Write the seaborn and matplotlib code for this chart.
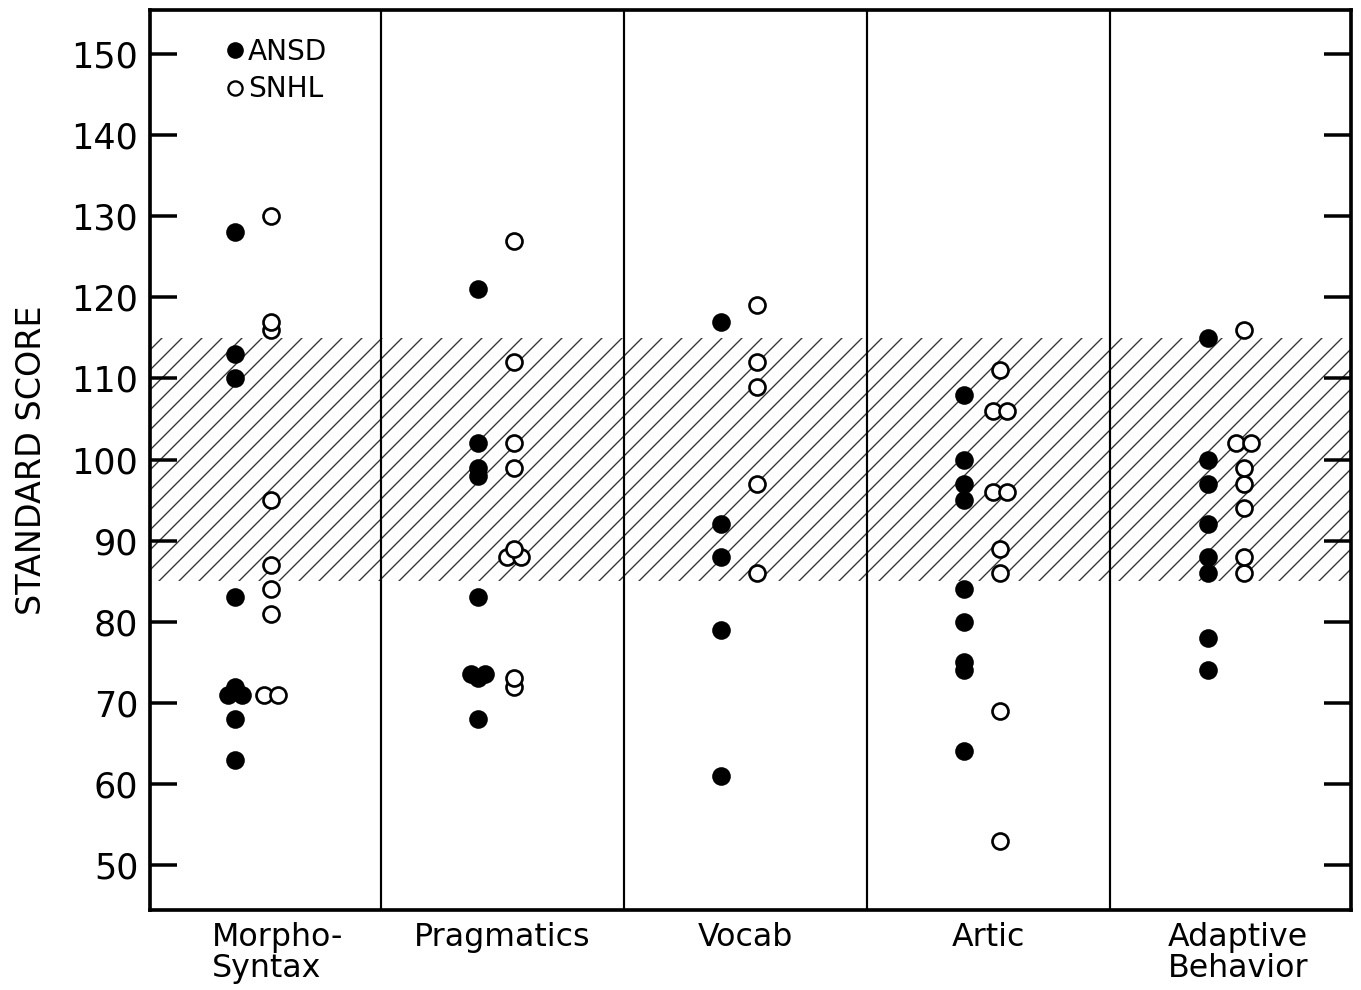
import numpy as np
import pandas as pd
import matplotlib
matplotlib.use("Agg")
import matplotlib.pyplot as plt
import matplotlib.transforms as mtransforms
import seaborn as sns
from matplotlib.lines import Line2D
from matplotlib import font_manager

# ---------------- data ----------------
categories = ["Morpho-\nSyntax", "Pragmatics", "Vocab", "Artic", "Adaptive\nBehavior"]
groups = ["ANSD", "SNHL"]

ansd_morpho = [128, 113, 110, 83, 72, 71, 71, 68, 63]
snhl_morpho = [130, 117, 116, 95, 87, 84, 81, 71, 71]
ansd_prag = [121, 102, 99, 98, 83, 73.5, 73.5, 73, 68]
snhl_prag = [127, 112, 102, 99, 89, 88, 88, 73, 72]
ansd_vocab = [117, 92, 88, 79, 61]
snhl_vocab = [119, 112, 109, 97, 86]
ansd_artic = [108, 100, 97, 95, 84, 80, 75, 74, 64]
snhl_artic = [111, 106, 106, 96, 96, 89, 86, 69, 53]
ansd_adapt = [115, 100, 97, 92, 88, 86, 78, 74]
snhl_adapt = [116, 102, 102, 99, 97, 94, 88, 86]

yticks = list(range(50, 151, 10))
normal_band = (85, 115)

ansd_all = [ansd_morpho, ansd_prag, ansd_vocab, ansd_artic, ansd_adapt]
snhl_all = [snhl_morpho, snhl_prag, snhl_vocab, snhl_artic, snhl_adapt]

# ---------------- layout helpers ----------------
group_offset = {"ANSD": -0.10, "SNHL": 0.048}
dup_step = 0.058

rows = []
for ci in range(len(categories)):
    for g, series in zip(groups, [ansd_all[ci], snhl_all[ci]]):
        vals = np.array(series, dtype=float)
        for v in np.unique(vals):
            n = int((vals == v).sum())
            offs = (np.arange(n) - (n - 1) / 2) * dup_step
            for o in offs:
                rows.append({"cat": ci, "group": g, "score": v,
                             "x": ci + group_offset[g] + o})
df = pd.DataFrame(rows)

# ---------------- style ----------------
sns.set_style("white")
plt.rcParams["font.family"] = ["DejaVu Sans"]
plt.rcParams["hatch.linewidth"] = 0.8
plt.rcParams["text.color"] = "black"
plt.rcParams["axes.labelcolor"] = "black"
plt.rcParams["xtick.color"] = "black"
plt.rcParams["ytick.color"] = "black"

available = {f.name for f in font_manager.fontManager.ttflist}
if "Liberation Sans Narrow" in available:
    tick_family = ["Liberation Sans Narrow", "DejaVu Sans"]
    tick_size = 23
else:
    tick_family = ["DejaVu Sans"]
    tick_size = 21

DPI = 120
fig = plt.figure(figsize=(1361 / DPI, 990 / DPI), dpi=DPI)
ax = fig.add_axes([150 / 1361, 1 - 910 / 990, 1201 / 1361, 900 / 990])

# normal range band (hatched)
ax.axhspan(normal_band[0], normal_band[1], facecolor="white", edgecolor="#333333",
           hatch="//", linewidth=0, zorder=0)

# panel separators
for i in range(len(categories) - 1):
    ax.axvline(i + 0.5, color="black", lw=1.3, zorder=1)

sns.scatterplot(data=df[df.group == "ANSD"], x="x", y="score", color="black",
                s=125, linewidth=0, ax=ax, legend=False, zorder=3)
sns.scatterplot(data=df[df.group == "SNHL"], x="x", y="score", color="white",
                edgecolor="black", s=92, linewidth=1.6, ax=ax, legend=False, zorder=3)

ax.set_xlim(-0.45, 4.49)
ax.set_ylim(44.45, 155.43)
ax.set_yticks(yticks)
ax.set_yticklabels([str(t) for t in yticks], family=tick_family, fontsize=tick_size)
ax.set_xticks(range(len(categories)))
ax.set_xticklabels(categories, fontsize=19, linespacing=1.0,
                   multialignment="left")
ax.tick_params(axis="y", which="both", left=True, right=True, direction="in",
               length=16, width=2.1, pad=7, colors="black")
ax.tick_params(axis="x", length=0, pad=7, colors="black")
ax.set_xlabel("")
ax.set_ylabel("STANDARD SCORE", fontsize=20, labelpad=14, color="black")

# nudge the first and last category labels as in the original
shifts = [18, 0, 0, 0, 6]
for lab, dx in zip(ax.get_xticklabels(), shifts):
    lab.set_transform(lab.get_transform() +
                      mtransforms.ScaledTranslation(dx / DPI, 0, fig.dpi_scale_trans))

for sp in ax.spines.values():
    sp.set_linewidth(2.2)
    sp.set_color("black")
    sp.set_visible(True)

handles = [
    Line2D([], [], marker="o", ls="", markerfacecolor="black", markeredgecolor="black",
           markersize=10, markeredgewidth=0),
    Line2D([], [], marker="o", ls="", markerfacecolor="white", markeredgecolor="black",
           markersize=8.5, markeredgewidth=1.4),
]
ax.legend(handles, groups, loc="upper left", bbox_to_anchor=(0.0638, 0.969),
          frameon=False, fontsize=16.8, handlelength=0.6, handletextpad=0.16,
          labelspacing=0.34, borderpad=0, borderaxespad=0)

fig.savefig("out.png", dpi=DPI)
